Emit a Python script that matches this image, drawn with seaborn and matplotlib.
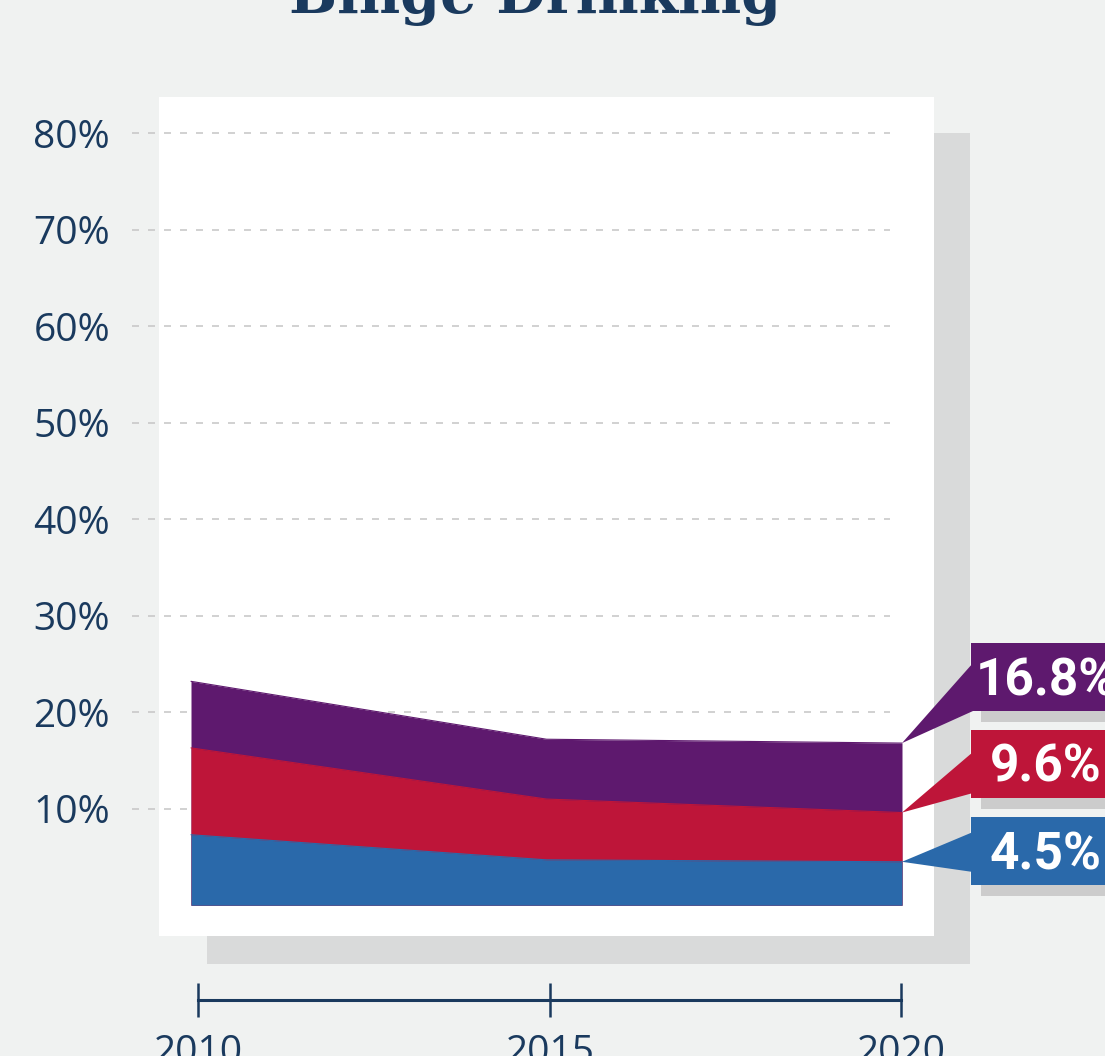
import numpy as np
import pandas as pd
import matplotlib.pyplot as plt
import matplotlib.patches as mpatches
import seaborn as sns

# --- data ---
years = [2010, 2015, 2020]
purple_vals = [23.2, 17.2, 16.8]
red_vals = [16.3, 11.0, 9.6]
blue_vals = [7.3, 4.7, 4.5]
y_ticks = [10, 20, 30, 40, 50, 60, 70, 80]
y_labels = ["10%", "20%", "30%", "40%", "50%", "60%", "70%", "80%"]
x_labels = ["2010", "2015", "2020"]
end_labels = ["16.8%", "9.6%", "4.5%"]
title = "Binge Drinking"

# --- style ---
BG = "#F0F2F1"
NAVY = "#1A3A5E"
PURPLE = "#5E196E"
RED = "#BE1539"
BLUE = "#2A69AA"
SHADOW = "#D9DADA"
LABEL_SHADOW = "#CCCCCC"
GRID = "#C9C9C9"

sns.set_theme(style="white")
plt.rcParams["font.family"] = ["Open Sans", "DejaVu Sans"]

W, H = 1105, 1056
fig = plt.figure(figsize=(W / 100, H / 100), dpi=100, facecolor=BG)


def fx(px):
    return px / W


def fy(py):
    return 1 - py / H


# white panel = main axes
ax = fig.add_axes([fx(159), fy(936), fx(934) - fx(159), fy(97) - fy(936)])
ax.set_facecolor("white")
ax.set_xlim(2010 - 32 / 71.1, 2020 + 32 / 71.1)
ax.set_ylim(-3.19, 83.75)

# drop shadow behind the panel
fig.add_artist(mpatches.Rectangle((fx(207), fy(964)), fx(970) - fx(207), fy(133) - fy(964),
                                  transform=fig.transFigure, fc=SHADOW, ec="none", zorder=-1))

# dashed grid lines that run out past the panel on the left
for t in y_ticks:
    ax.plot([-0.035, 0.943], [t, t], transform=ax.get_yaxis_transform(), ls=(0, (4.2, 5.4)),
            color=GRID, lw=1.2, clip_on=False, zorder=0.5)

# overlapping areas, biggest first
series = [(purple_vals, PURPLE), (red_vals, RED), (blue_vals, BLUE)]
for vals, c in series:
    ax.fill_between(years, 0, vals, color=c, lw=0, zorder=2)
    sns.lineplot(x=years, y=vals, color=c, lw=0.8, ax=ax, zorder=3)

ax.set_xticks([])
ax.set_yticks(y_ticks, y_labels)
ax.tick_params(axis="y", length=0, pad=(159 - 110) * 0.72, labelsize=28, labelcolor=NAVY)
ax.set_xlabel("")
ax.set_ylabel("")
sns.despine(ax=ax, left=True, bottom=True)

# separate timeline axis below the panel
ax2 = fig.add_axes([fx(198), fy(1000), fx(901) - fx(198), 0.0001])
ax2.set_facecolor("none")
ax2.set_xlim(2010, 2020)
ax2.set_yticks([])
ax2.set_xticks(years, x_labels)
for s in ["left", "right", "top"]:
    ax2.spines[s].set_visible(False)
ax2.spines["bottom"].set_color(NAVY)
ax2.spines["bottom"].set_linewidth(2.2)
ax2.tick_params(axis="x", direction="inout", length=24.5, width=1.8, color=NAVY,
                labelsize=28, labelcolor=NAVY, pad=12, bottom=True)

# end-of-line callouts
box_tops = [643, 730, 817]
box_h = 68
tri_bases = [(663, 711), (752, 793), (832, 872)]
to_fig = fig.transFigure.inverted()
for (vals, c), lab, top, (b0, b1) in zip(series, end_labels, box_tops, tri_bases):
    apex = to_fig.transform(ax.transData.transform((2020, vals[-1])))
    fig.add_artist(mpatches.Rectangle((fx(981), fy(top + box_h + 11)), fx(1130) - fx(981),
                                      fy(top + box_h) - fy(top + box_h + 11),
                                      transform=fig.transFigure, fc=LABEL_SHADOW, ec="none", zorder=3))
    fig.add_artist(mpatches.Polygon([apex, (fx(973), fy(b0)), (fx(973), fy(b1))], closed=True,
                                    transform=fig.transFigure, fc=c, ec="none", zorder=4))
    fig.add_artist(mpatches.Rectangle((fx(971), fy(top + box_h)), fx(1130) - fx(971),
                                      fy(top) - fy(top + box_h),
                                      transform=fig.transFigure, fc=c, ec="none", zorder=4))
    fig.text(fx(1046), fy(top + box_h / 2 + 18), lab, ha="center", va="baseline", color="white",
             fontsize=37, fontweight="bold", family=["Roboto", "DejaVu Sans"], zorder=5)

fig.text(fx(535), fy(13), title, ha="center", va="baseline", color=NAVY, fontsize=41,
         fontweight="bold", family=["DejaVu Serif"])

fig.savefig("out.png", dpi=100, facecolor=BG)
